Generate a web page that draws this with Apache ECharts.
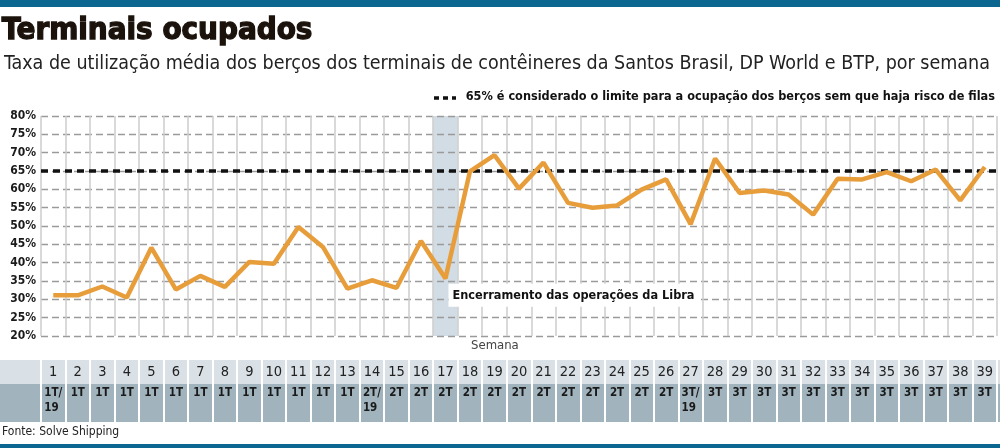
<!DOCTYPE html>
<html>
<head>
<meta charset="utf-8">
<script src="https://cdn.jsdelivr.net/npm/echarts@6/dist/echarts.min.js"></script>
<style>
html,body{margin:0;padding:0;background:#fff;}
#main{width:1000px;height:448px;}
</style>
</head>
<body>
<div id="main"></div>
<script>
// semanas
var semanas = ['1','2','3','4','5','6','7','8','9','10','11','12','13','14','15','16','17','18','19','20',
    '21','22','23','24','25','26','27','28','29','30','31','32','33','34','35','36','37','38','39'];
// trimestre de cada semana
var trimestres = ['1T/\n19 ','1T','1T','1T','1T','1T','1T','1T','1T','1T','1T','1T','1T','2T/\n19 ','2T','2T','2T','2T','2T','2T',
    '2T','2T','2T','2T','2T','2T','3T/\n19 ','3T','3T','3T','3T','3T','3T','3T','3T','3T','3T','3T','3T'];
// taxa de utilizacao (%)
var taxa = [31.1,31.1,33.5,30.5,44.1,32.7,36.4,33.4,40.2,39.7,49.7,44.3,32.9,35.2,33.1,45.9,35.7,64.9,69.3,60.2,
    67.3,56.3,55.0,55.6,59.9,62.7,50.5,68.4,59.0,59.7,58.6,53.1,62.9,62.7,64.7,62.2,65.4,57.0,66.1];
var limite = 65;
var semanaLibra = '17';
var yTicks = {min:20, max:80, step:5};

var font = '"DejaVu Sans Condensed",sans-serif';

/*faixa da semana do encerramento*/
var faixa = semanas.map(function(s){
    return s == semanaLibra ? yTicks.max : '-';
});

var myChart = echarts.init(document.getElementById('main'));
var option = {
    animation:false,
    backgroundColor:'#fff',
    grid:[
        {left:41,right:3,top:116,height:220},
        {left:41,right:3,top:360,height:24},
        {left:41,right:3,top:384,height:38}
    ],
    xAxis:[
        {
            gridIndex:0,type:'category',data:semanas,boundaryGap:true,
            axisLine:{show:false},axisTick:{show:false},axisLabel:{show:false},
            splitLine:{show:true,lineStyle:{color:'#cccccc',width:1.5}}
        },
        {
            gridIndex:1,type:'category',data:semanas,position:'top',
            axisLine:{show:false},axisTick:{show:false},
            axisLabel:{inside:true,interval:0,margin:12,verticalAlign:'middle',color:'#222',fontSize:14.5,fontFamily:font},
            splitLine:{show:true,interval:0,lineStyle:{color:'#fff',width:2}}
        },
        {
            gridIndex:2,type:'category',data:trimestres,position:'top',
            axisLine:{show:false},axisTick:{show:false},
            axisLabel:{inside:true,interval:0,margin:2,verticalAlign:'top',color:'#1a1a1a',fontSize:11.5,
                fontWeight:'bold',fontFamily:font,lineHeight:15},
            splitLine:{show:true,interval:0,lineStyle:{color:'#fff',width:2}}
        }
    ],
    yAxis:[
        {
            gridIndex:0,type:'value',min:yTicks.min,max:yTicks.max,interval:yTicks.step,
            axisLine:{show:false},axisTick:{show:false},
            axisLabel:{formatter:'{value}%',margin:5,color:'#1a1a1a',fontSize:12,fontWeight:'bold',fontFamily:font},
            splitLine:{show:true,lineStyle:{color:'#9a9a9a',width:1.3,type:[7,4]}}
        },
        {gridIndex:1,type:'value',show:false,min:0,max:1},
        {gridIndex:2,type:'value',show:false,min:0,max:1}
    ],
    graphic:[
        {type:'rect',shape:{x:0,y:0,width:1000,height:7},style:{fill:'#0b6690'},silent:true},
        {type:'rect',shape:{x:0,y:444,width:1000,height:4},style:{fill:'#0b6690'},silent:true},
        {type:'text',left:1,top:15,style:{text:'Terminais ocupados',font:'bold 31px '+font,fill:'#1b120c',
            stroke:'#1b120c',lineWidth:1.3}},
        {type:'text',left:4,top:54,style:{text:'Taxa de utilização média dos berços dos terminais de contêineres da Santos Brasil, DP World e BTP, por semana',
            font:'19.5px '+font,fill:'#222'}},
        {type:'line',shape:{x1:434,y1:98,x2:456,y2:98},style:{stroke:'#111',lineWidth:3.5,lineDash:[5,4]}},
        {type:'text',right:5,top:90,style:{text:'65% é considerado o limite para a ocupação dos berços sem que haja risco de filas',
            font:'bold 12.6px '+font,fill:'#111'}},
        {type:'text',left:471,top:339,style:{text:'Semana',font:'13px '+font,fill:'#444'}},
        {type:'text',left:2,top:426,style:{text:'Fonte: Solve Shipping',font:'12px '+font,fill:'#222'}},
        {type:'rect',z:-10,shape:{x:0,y:360,width:1000,height:24},style:{fill:'#d9e1e7'},silent:true},
        {type:'rect',z:-10,shape:{x:0,y:384,width:1000,height:38},style:{fill:'#a1b3bd'},silent:true}
    ],
    series:[
        {
            name:'faixa',type:'bar',xAxisIndex:0,yAxisIndex:0,data:faixa,
            barWidth:'100%',z:-1,itemStyle:{color:'#d2dce4'},silent:true
        },
        {
            name:'taxa',type:'line',xAxisIndex:0,yAxisIndex:0,data:taxa,
            symbol:'none',lineStyle:{color:'#e89d3b',width:4.5},z:5,
            markLine:{
                silent:true,symbol:'none',
                lineStyle:{color:'#111',width:3.5,type:[7,5]},
                label:{show:false},
                data:[{yAxis:limite}]
            },
            markPoint:{
                symbolSize:0,silent:true,
                data:[{coord:[semanaLibra,31.1]}],
                label:{show:true,position:'right',offset:[-2,0],formatter:'Encerramento das operações da Libra',
                    backgroundColor:'#fff',padding:[5,6,5,4],color:'#111',fontSize:12.6,fontWeight:'bold',fontFamily:font}
            }
        }
    ]
};
myChart.setOption(option);
</script>
</body>
</html>
